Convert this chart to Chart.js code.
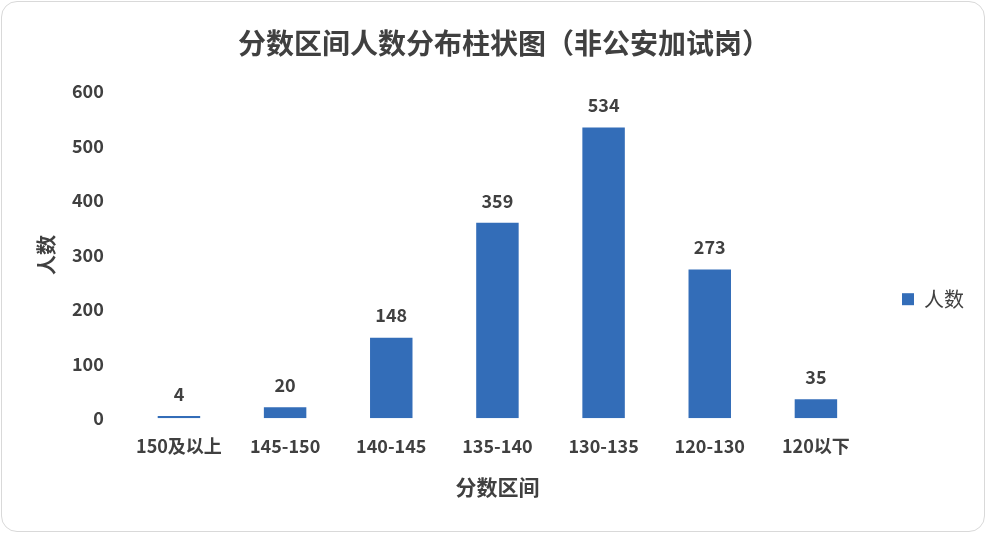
<!DOCTYPE html>
<html>
<head>
<meta charset="utf-8">
<script src="https://cdn.jsdelivr.net/npm/chart.js@4"></script>
<style>
  html,body{margin:0;padding:0;background:#fff;}
  #box{position:absolute;left:1px;top:1px;width:982px;height:529px;border:1px solid #d9d9d9;border-radius:16px;background:#fff;overflow:hidden;}
  canvas{display:block;}
</style>
</head>
<body>
<div id="box"><canvas id="c" width="982" height="529"></canvas></div>
<script>
const categories = ['150及以上','145-150','140-145','135-140','130-135','120-130','120以下'];
const counts = [4, 20, 148, 359, 534, 273, 35];
const yTicks = [0, 100, 200, 300, 400, 500, 600];
const seriesName = '人数';

const FONT = "'Noto Sans CJK SC', 'Noto Sans', sans-serif";
const TXT = '#404040';
const BAR = '#336db8';

const valueLabels = {
  id: 'valueLabels',
  afterDatasetsDraw(chart) {
    const ctx = chart.ctx;
    ctx.save();
    ctx.font = "bold 18px " + FONT;
    ctx.fillStyle = TXT;
    ctx.textAlign = 'center';
    ctx.textBaseline = 'bottom';
    chart.getDatasetMeta(0).data.forEach((el, i) => {
      const p = el.getProps(['x', 'y'], true);
      ctx.fillText(String(counts[i]), p.x, p.y - 13);
    });
    ctx.restore();
  }
};

new Chart(document.getElementById('c'), {
  type: 'bar',
  data: {
    labels: categories,
    datasets: [{
      label: seriesName,
      data: counts,
      backgroundColor: BAR,
      borderWidth: 0,
      categoryPercentage: 1,
      barPercentage: 0.4
    }]
  },
  options: {
    responsive: false,
    animation: false,
    layout: { padding: { left: 32, right: 10, top: 5, bottom: 27 } },
    plugins: {
      title: {
        display: true,
        text: '分数区间人数分布柱状图（非公安加试岗）',
        color: TXT,
        font: { family: FONT, size: 28, weight: 'bold' },
        padding: { top: 20, bottom: 31 }
      },
      legend: {
        position: 'right',
        align: 'start',
        title: {
          display: true,
          text: ' ',
          font: { family: FONT, size: 1 },
          padding: { top: 259, bottom: 0 }
        },
        labels: {
          color: TXT,
          boxWidth: 12,
          boxHeight: 12,
          font: { family: FONT, size: 20 },
          padding: 22
        }
      },
      tooltip: { enabled: false }
    },
    scales: {
      x: {
        grid: { display: false },
        border: { display: false },
        ticks: { color: TXT, font: { family: FONT, size: 18, weight: 'bold' }, padding: 9, maxRotation: 0 },
        title: { display: true, text: '分数区间', color: TXT, font: { family: FONT, size: 21, weight: 'bold' }, padding: { top: 9 } }
      },
      y: {
        min: 0,
        max: 600,
        grid: { display: false },
        border: { display: false },
        afterBuildTicks(axis) { axis.ticks = yTicks.map(v => ({ value: v })); },
        ticks: { color: TXT, font: { family: FONT, size: 18, weight: 'bold' }, padding: 14 },
        title: { display: true, text: '人数', color: TXT, font: { family: FONT, size: 20, weight: 'bold' }, padding: { top: 0, bottom: 0 } }
      },
      gap: {
        position: 'right',
        display: true,
        grid: { display: false },
        border: { display: false },
        ticks: { display: false },
        afterFit(scale) { scale.width = 11; }
      }
    }
  },
  plugins: [valueLabels]
});
</script>
</body>
</html>
